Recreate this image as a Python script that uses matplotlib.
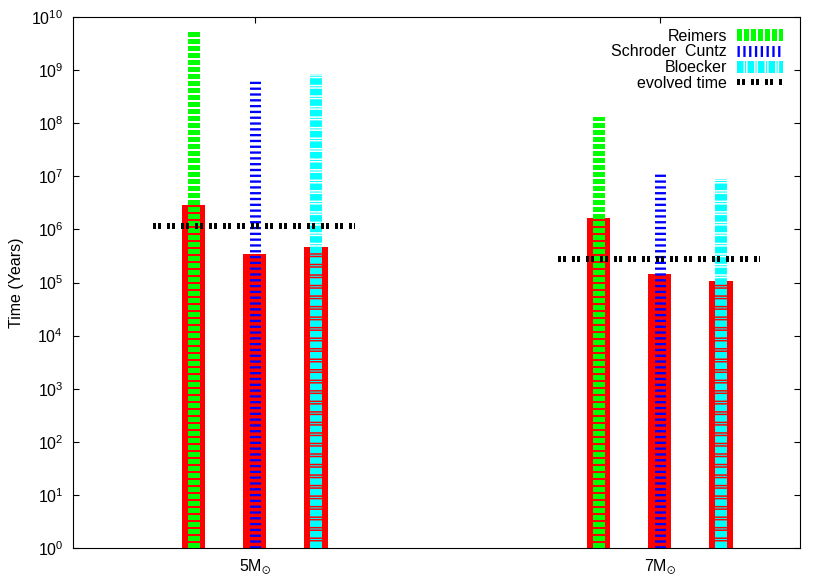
import matplotlib
matplotlib.use('Agg')
import matplotlib.pyplot as plt
from matplotlib.lines import Line2D
import numpy as np

plt.rcParams['font.family'] = ['Liberation Sans', 'DejaVu Sans']
plt.rcParams['mathtext.default'] = 'regular'
plt.rcParams['lines.scale_dashes'] = False

# masses (categories)
categories = [r'5M$_{\odot}$', r'7M$_{\odot}$']

# patterned bars: top of each mass-loss line (years)
reimers_top = [5.2e9, 1.31e8]
schroder_top = [6.5e8, 1.2e7]
bloecker_top = [8.5e8, 8.9e6]

# red filled bars (years)
reimers_red = [2.9e6, 1.64e6]
schroder_red = [3.4e5, 1.45e5]
bloecker_red = [4.7e5, 1.07e5]

# evolved time (years)
evolved = [1.15e6, 2.8e5]

labels = ['Reimers', 'Schroder  Cuntz', 'Bloecker', 'evolved time']

fs = 11.5

fig = plt.figure(figsize=(8.3, 5.81), dpi=100)
ax = fig.add_axes([73 / 830, 33 / 581, 727 / 830, 531 / 581])

x = np.arange(len(categories))
off = 0.151
w = 0.057

styles = [
    dict(color='#00ff00', lw=8.6, dashes=[3.6, 1.44]),
    dict(color='#0000ff', lw=7.9, dashes=[1.66, 2.52]),
    dict(color='#00ffff', lw=8.6, dashes=[4.7, 1.08, 0.72, 1.08]),
]
tops = [reimers_top, schroder_top, bloecker_top]
reds = [reimers_red, schroder_red, bloecker_red]

for k in range(3):
    xs = x + (k - 1) * off
    ax.bar(xs, np.array(reds[k]) - 1, bottom=1, width=w, color='red', zorder=2)
    for xi, t in zip(xs, tops[k]):
        ax.plot([xi, xi], [1, t], dash_capstyle='butt', solid_capstyle='butt',
                zorder=3, **styles[k])

ev_style = dict(color='black', lw=4.3, dashes=[2.16, 1.44, 2.16, 4.32])
for xi, e in zip(x, evolved):
    ax.plot([xi - 0.252, xi + 0.247], [e, e], dash_capstyle='butt', zorder=4, **ev_style)

ax.set_yscale('log')
ax.set_ylim(1, 1e10)
ax.set_xlim(-0.449, 1.346)
ax.set_yticks([10.0 ** i for i in range(11)])
ax.minorticks_off()
ax.set_xticks(x)
ax.set_xticklabels(categories)
ax.tick_params(direction='in', length=4.3, width=0.8, labelsize=fs,
               top=True, right=True, pad=7)
ax.set_ylabel('Time (Years)', fontsize=fs)
ax.yaxis.set_label_coords(-0.0674, 0.5)

handles = [Line2D([], [], dash_capstyle='butt', **s) for s in styles]
handles.append(Line2D([], [], dash_capstyle='butt', **ev_style))
ax.legend(handles, labels, loc='upper right', bbox_to_anchor=(0.977, 0.978),
          frameon=False, markerfirst=False, alignment='right', fontsize=fs,
          handlelength=2.9, handletextpad=0.63, labelspacing=0.05,
          borderpad=0, borderaxespad=0)

fig.savefig('out.png', dpi=100)
